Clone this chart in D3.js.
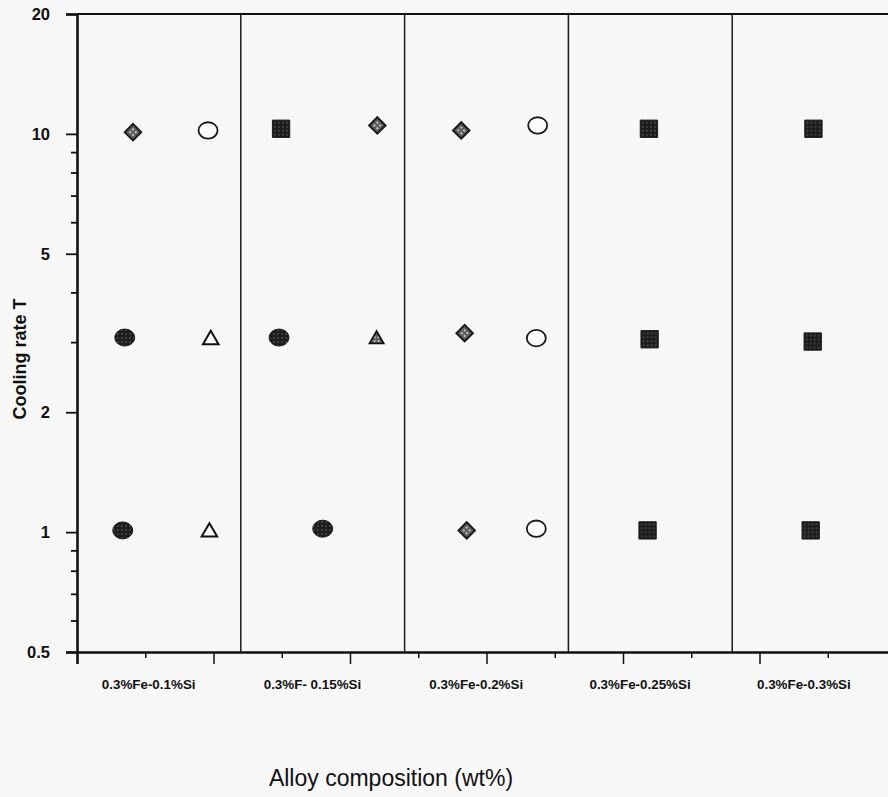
<!DOCTYPE html>
<html>
<head>
<meta charset="utf-8">
<script src="https://cdn.jsdelivr.net/npm/d3@7"></script>
<style>
  body { margin: 0; background: #f7f7f7; }
  svg { display: block; }
</style>
</head>
<body>
<div id="chart"></div>
<script>
// cooling rate vs alloy composition, log y axis, 5 composition groups

var svgWidth = 888;
var svgHeight = 797;

// composition groups (each group is 2.4 axis units wide)
var categories = ["0.3%Fe-0.1%Si", "0.3%F- 0.15%Si", "0.3%Fe-0.2%Si", "0.3%Fe-0.25%Si", "0.3%Fe-0.3%Si"];
var groupWidth = 2.4;

// y ticks
var yMajorTicks = [0.5, 1, 2, 5, 10, 20];
var yMinorTicks = [0.6, 0.7, 0.8, 0.9, 3, 4, 6, 7, 8, 9];
// x ticks (no labels)
var xTicks = [1, 2, 3, 4, 5, 6, 7, 8, 9, 10, 11];

// series (x in axis units, y = cooling rate)
var filledCircleX = [0.70, 0.67, 2.96, 3.60];
var filledCircleY = [3.08, 1.01, 3.08, 1.02];
var openTriangleX = [1.96, 1.94];
var openTriangleY = [3.04, 1.00];
var dottedTriangleX = [4.39];
var dottedTriangleY = [3.05];
var openCircleX = [1.92, 6.75, 6.73, 6.73];
var openCircleY = [10.2, 10.5, 3.07, 1.02];
var diamondX = [0.82, 4.40, 5.63, 5.68, 5.71];
var diamondY = [10.1, 10.5, 10.2, 3.16, 1.01];
var squareX = [2.99, 8.38, 8.39, 8.36, 10.79, 10.78, 10.75];
var squareY = [10.3, 10.3, 3.05, 1.01, 10.3, 3.01, 1.01];

var svg = d3.select("#chart")
  .append("svg")
  .attr("width", svgWidth)
  .attr("height", svgHeight);

// textures for the shaded markers
var defs = svg.append("defs");
var dark = defs.append("pattern")
  .attr("id", "darkDots")
  .attr("patternUnits", "userSpaceOnUse")
  .attr("width", 4).attr("height", 4);
dark.append("rect").attr("width", 4).attr("height", 4).attr("fill", "#1c1c1c");
dark.append("circle").attr("cx", 2).attr("cy", 2).attr("r", 0.7).attr("fill", "#7a7a7a");

var light = defs.append("pattern")
  .attr("id", "lightDots")
  .attr("patternUnits", "userSpaceOnUse")
  .attr("width", 4).attr("height", 4);
light.append("rect").attr("width", 4).attr("height", 4).attr("fill", "#5c5c5c");
light.append("circle").attr("cx", 2).attr("cy", 2).attr("r", 1.1).attr("fill", "#d8d8d8");

// scales
var x = d3.scaleLinear().domain([0, 12]).range([77, 896]);
var y = d3.scaleLog().domain([0.5, 20]).range([652, 14]);

// top border and group dividers
svg.append("line")
  .attr("x1", x(0)).attr("x2", x(12))
  .attr("y1", y(20)).attr("y2", y(20))
  .attr("stroke", "#111").attr("stroke-width", 2.2);

svg.selectAll(".divider")
  .data(d3.range(1, categories.length))
  .enter()
  .append("line")
  .attr("class", "divider")
  .attr("x1", d => x(d * groupWidth)).attr("x2", d => x(d * groupWidth))
  .attr("y1", y(20)).attr("y2", y(0.5))
  .attr("stroke", "#1a1a1a").attr("stroke-width", 1.5);

// y axis
var yAxis = svg.append("g")
  .attr("transform", `translate(${x(0)},0)`)
  .call(d3.axisLeft(y).tickValues(yMajorTicks).tickSize(11).tickPadding(16)
    .tickFormat(d => d));
yAxis.select(".domain").attr("stroke-width", 2.6).attr("stroke", "#111");
yAxis.selectAll(".tick line").attr("stroke-width", 1.8).attr("stroke", "#111");
yAxis.selectAll(".tick text")
  .attr("font-family", "Liberation Sans, Arial, sans-serif")
  .attr("font-size", "16.5px")
  .attr("font-weight", "bold")
  .attr("fill", "#111");

var yMinor = svg.append("g")
  .attr("transform", `translate(${x(0)},0)`)
  .call(d3.axisLeft(y).tickValues(yMinorTicks).tickSize(6).tickFormat(""));
yMinor.select(".domain").remove();
yMinor.selectAll(".tick line").attr("stroke-width", 1.8).attr("stroke", "#111");

// x axis: long ticks on even values, short on odd
var xAxis = svg.append("g")
  .attr("transform", `translate(0,${y(0.5)})`)
  .call(d3.axisBottom(x).tickValues(xTicks.filter(d => d % 2 == 0)).tickSize(12).tickFormat(""));
xAxis.select(".domain").attr("stroke-width", 2.6).attr("stroke", "#111");
xAxis.selectAll(".tick line").attr("stroke-width", 1.5).attr("stroke", "#111");

var xMinor = svg.append("g")
  .attr("transform", `translate(0,${y(0.5)})`)
  .call(d3.axisBottom(x).tickValues(xTicks.filter(d => d % 2 == 1)).tickSize(6).tickFormat(""));
xMinor.select(".domain").remove();
xMinor.selectAll(".tick line").attr("stroke-width", 1.5).attr("stroke", "#111");

// composition labels
svg.selectAll(".catLabel")
  .data(categories)
  .enter()
  .append("text")
  .attr("class", "catLabel")
  .attr("x", (d, i) => x(i * groupWidth + groupWidth / 2 - 0.15))
  .attr("y", 689)
  .attr("text-anchor", "middle")
  .attr("font-family", "Liberation Sans, Arial, sans-serif")
  .attr("font-size", "13.4px")
  .attr("font-weight", "bold")
  .attr("fill", "#111")
  .text(d => d);

// markers
function pts(xs, ys) {
  return xs.map((v, i) => ({x: v, y: ys[i]}));
}

svg.selectAll(".filledCircle")
  .data(pts(filledCircleX, filledCircleY))
  .enter()
  .append("ellipse")
  .attr("class", "filledCircle")
  .attr("cx", d => x(d.x)).attr("cy", d => y(d.y))
  .attr("rx", 10).attr("ry", 8.5)
  .attr("fill", "url(#darkDots)")
  .attr("stroke", "#1c1c1c").attr("stroke-width", 1);

svg.selectAll(".openCircle")
  .data(pts(openCircleX, openCircleY))
  .enter()
  .append("ellipse")
  .attr("class", "openCircle")
  .attr("cx", d => x(d.x)).attr("cy", d => y(d.y))
  .attr("rx", 9.5).attr("ry", 8.2)
  .attr("fill", "#fcfcfc")
  .attr("stroke", "#1a1a1a").attr("stroke-width", 1.8);

var triangle = d3.symbol().type(d3.symbolTriangle).size(105);

svg.selectAll(".openTriangle")
  .data(pts(openTriangleX, openTriangleY))
  .enter()
  .append("path")
  .attr("class", "openTriangle")
  .attr("transform", d => `translate(${x(d.x)},${y(d.y)})`)
  .attr("d", triangle)
  .attr("fill", "#fcfcfc")
  .attr("stroke", "#111").attr("stroke-width", 2);

svg.selectAll(".dottedTriangle")
  .data(pts(dottedTriangleX, dottedTriangleY))
  .enter()
  .append("path")
  .attr("class", "dottedTriangle")
  .attr("transform", d => `translate(${x(d.x)},${y(d.y)})`)
  .attr("d", d3.symbol().type(d3.symbolTriangle).size(85))
  .attr("fill", "url(#lightDots)")
  .attr("stroke", "#111").attr("stroke-width", 1.8);

svg.selectAll(".diamond")
  .data(pts(diamondX, diamondY))
  .enter()
  .append("path")
  .attr("class", "diamond")
  .attr("transform", d => `translate(${x(d.x)},${y(d.y)}) rotate(45)`)
  .attr("d", d3.symbol().type(d3.symbolSquare).size(135))
  .attr("fill", "url(#lightDots)")
  .attr("stroke", "#1a1a1a").attr("stroke-width", 2);

svg.selectAll(".square")
  .data(pts(squareX, squareY))
  .enter()
  .append("path")
  .attr("class", "square")
  .attr("transform", d => `translate(${x(d.x)},${y(d.y)})`)
  .attr("d", d3.symbol().type(d3.symbolSquare).size(300))
  .attr("fill", "url(#darkDots)")
  .attr("stroke", "#1c1c1c").attr("stroke-width", 1);

// axis titles
svg.append("text")
  .attr("transform", "translate(26, 359) rotate(-90)")
  .attr("text-anchor", "middle")
  .attr("font-family", "Liberation Sans, Arial, sans-serif")
  .attr("font-size", "18px")
  .attr("font-weight", "bold")
  .attr("fill", "#111")
  .text("Cooling rate T");

svg.append("text")
  .attr("x", 391)
  .attr("y", 786)
  .attr("text-anchor", "middle")
  .attr("font-family", "Liberation Sans, Arial, sans-serif")
  .attr("font-size", "23px")
  .attr("fill", "#111")
  .text("Alloy composition (wt%)");
</script>
</body>
</html>
